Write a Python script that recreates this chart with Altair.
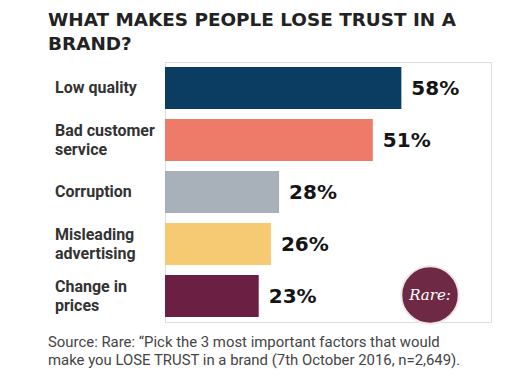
import altair as alt
import pandas as pd

categories = ["Low quality", "Bad customer\nservice", "Corruption", "Misleading\nadvertising", "Change in\nprices"]
values = [58, 51, 28, 26, 23]
value_labels = ["58%", "51%", "28%", "26%", "23%"]
colors = ["#0b3c61", "#ee7b69", "#a8b1b9", "#f6ca73", "#6b2043"]

title_lines = ["WHAT MAKES PEOPLE LOSE TRUST IN A", "BRAND?"]
source_lines = ["Source: Rare: \u201cPick the 3 most important factors that would",
                "make you LOSE TRUST in a brand (7th October 2016, n=2,649)."]

df = pd.DataFrame({"cat": categories, "val": values, "lab": value_labels, "color": colors})

y = alt.Y("cat:N", sort=categories, axis=None,
          scale=alt.Scale(paddingInner=0.19, paddingOuter=0.095))
x = alt.X("val:Q", axis=None, scale=alt.Scale(domain=[0, 80]))

bars = alt.Chart(df).mark_bar().encode(
    x=x, y=y, color=alt.Color("color:N", scale=None)
)

vals = alt.Chart(df).mark_text(
    align="left", baseline="middle", dx=10, dy=1,
    font="DejaVu Sans", fontWeight="bold", fontSize=20, color="#151515"
).encode(x=x, y=y, text="lab:N")

cat_style = dict(align="left", baseline="middle", lineBreak="\n", lineHeight=18.5,
                 font="Roboto", fontWeight="bold", fontSize=16, color="#333333")
cats1 = alt.Chart(df).transform_filter(
    "indexof(datum.cat, '\\n') < 0"
).mark_text(**cat_style).encode(x=alt.value(-110), y=y, text="cat:N")
cats2 = alt.Chart(df).transform_filter(
    "indexof(datum.cat, '\\n') >= 0"
).mark_text(dy=-9, **cat_style).encode(x=alt.value(-110), y=y, text="cat:N")

src = pd.DataFrame({"t": ["\n".join(source_lines)]})
footer = alt.Chart(src).mark_text(
    align="left", baseline="alphabetic", lineBreak="\n", lineHeight=18,
    font="Roboto", fontSize=14.9, color="#444444"
).encode(x=alt.value(-117), y=alt.value(285), text="t:N")

logo_df = pd.DataFrame({"t": ["Rare:"]})
logo = alt.Chart(logo_df).mark_point(
    filled=True, shape="circle", size=3300, color="#6e2a44",
    stroke="#f0e6ea", strokeWidth=2, opacity=1
).encode(x=alt.value(265), y=alt.value(233))
logo_text = alt.Chart(logo_df).mark_text(
    font="DejaVu Serif", fontStyle="italic", fontSize=15, color="white",
    align="center", baseline="middle"
).encode(x=alt.value(265), y=alt.value(233), text="t:N")

chart = alt.layer(bars, vals, cats1, cats2, footer, logo, logo_text).properties(
    width=326, height=260,
    autosize=alt.AutoSizeParams(type="none"),
    padding={"left": 157, "top": 54, "right": 22, "bottom": 53},
    title=alt.Title(title_lines, anchor="start", frame="group", dx=-117, fontSize=18.4,
                    font="DejaVu Sans", fontWeight="bold", color="#222222",
                    lineHeight=24, offset=9),
).configure_view(stroke=None).configure(background="white")

chart.save("out.html", embed_options={"renderer": "svg", "actions": False})
